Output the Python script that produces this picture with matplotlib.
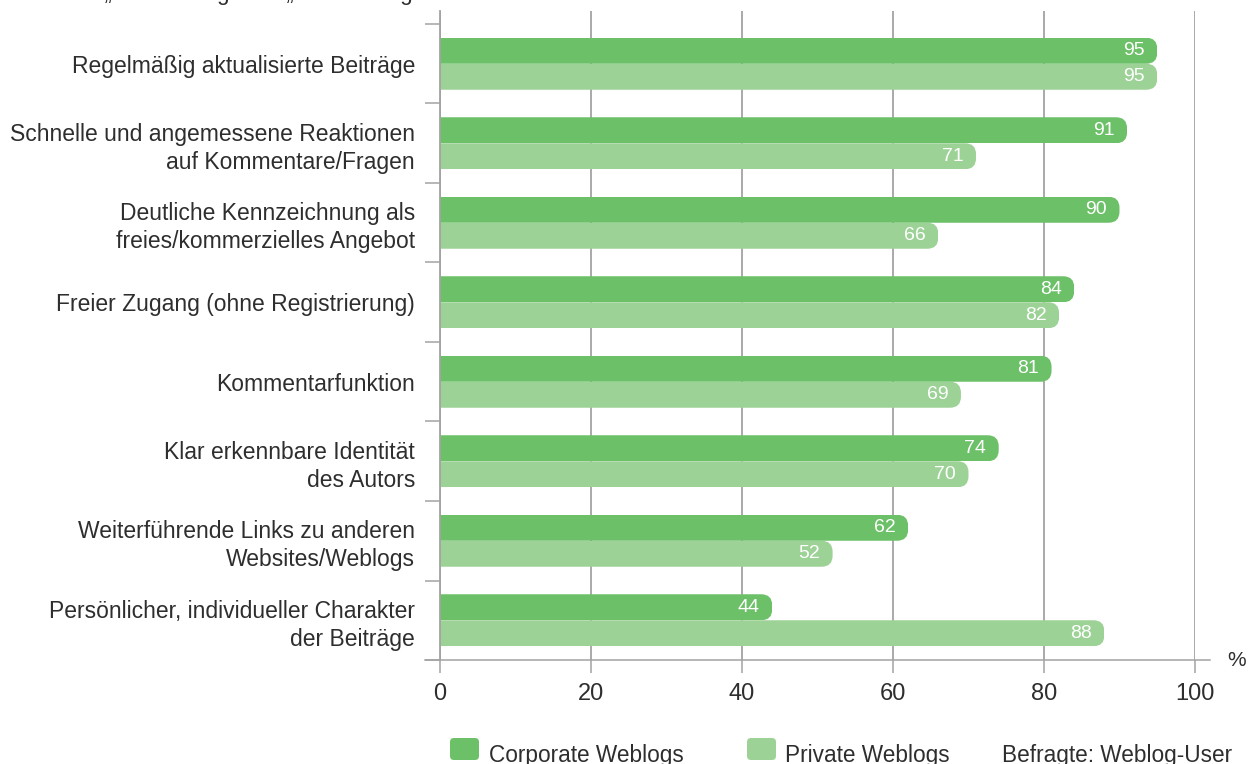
import matplotlib.pyplot as plt
from matplotlib.patches import FancyBboxPatch
from matplotlib.lines import Line2D

categories = [
    'Regelmäßig aktualisierte Beiträge',
    'Schnelle und angemessene Reaktionen\nauf Kommentare/Fragen',
    'Deutliche Kennzeichnung als\nfreies/kommerzielles Angebot',
    'Freier Zugang (ohne Registrierung)',
    'Kommentarfunktion',
    'Klar erkennbare Identität\ndes Autors',
    'Weiterführende Links zu anderen\nWebsites/Weblogs',
    'Persönlicher, individueller Charakter\nder Beiträge',
]
corporate = [95, 91, 90, 84, 81, 74, 62, 44]
private = [95, 71, 66, 82, 69, 70, 52, 88]
x_ticks = [0, 20, 40, 60, 80, 100]

dark_green = '#6cc068'
light_green = '#9dd296'
grid_gray = '#a3a3a3'
text_color = '#2e2e2e'

plt.rcParams['font.family'] = ['Liberation Sans', 'DejaVu Sans']

W, H = 1253, 764
fig = plt.figure(figsize=(W / 100, H / 100), dpi=100)
ax = fig.add_axes([440 / W, 104 / H, 755 / W, 649 / H])

n = len(categories)
ax.set_xlim(0, 100)
ax.set_ylim(n - 0.5, -0.5 - 13 / 79.5)

bar_h = 0.327
pos = list(range(n))
bars_c = ax.barh([p - bar_h / 2 for p in pos], corporate, height=bar_h,
                 color=dark_green, linewidth=0, zorder=3)
bars_p = ax.barh([p + bar_h / 2 for p in pos], private, height=bar_h,
                 color=light_green, linewidth=0, zorder=3)

# round off the right ends: clip every bar to a rounded box
px_x = 755 / 100
px_y = 649 / (n + 13 / 79.5)
radius_px = 11
rs = radius_px / px_x
aspect = px_x / px_y
for rect in list(bars_c) + list(bars_p):
    x0, y0 = rect.get_x(), rect.get_y()
    w, h = rect.get_width(), rect.get_height()
    clip = FancyBboxPatch((x0 - 5, y0), w + 5, h,
                          boxstyle=f'round,pad=0,rounding_size={rs}',
                          mutation_aspect=aspect, transform=ax.transData)
    rect.set_clip_path(clip)

for bars, vals in ((bars_c, corporate), (bars_p, private)):
    for rect, v in zip(bars, vals):
        ax.annotate(str(v), (v, rect.get_y() + rect.get_height() / 2),
                    xytext=(-9, 0), textcoords='offset points',
                    ha='right', va='center', color='white', fontsize=14,
                    zorder=4)

# axes styling
for side in ('top', 'right', 'bottom'):
    ax.spines[side].set_visible(False)
ax.spines['left'].set_color(grid_gray)
ax.spines['left'].set_linewidth(1.3)
ax.spines['left'].set_zorder(5)

ax.set_xticks(x_ticks)
ax.set_xticklabels([str(t) for t in x_ticks])
ax.tick_params(axis='x', length=9.5, width=1.1, color=grid_gray, pad=7,
               labelsize=17, labelcolor=text_color)
ax.set_yticks(pos)
ax.set_yticklabels(categories)
for lbl in ax.get_yticklabels():
    lbl.set_linespacing(1.27)
ax.set_yticks([p + 0.5 for p in range(-1, n)], minor=True)
ax.tick_params(axis='y', which='major', length=0, pad=18, labelsize=16.5,
               labelcolor=text_color)
ax.tick_params(axis='y', which='minor', length=11, width=1.1, color=grid_gray)

ax.grid(axis='x', color=grid_gray, linewidth=1.3, zorder=1)
ax.set_axisbelow(True)

# baseline extending past both ends of the axis
fig.add_artist(Line2D([425 / W, 1210 / W], [104 / H, 104 / H],
                      color=grid_gray, linewidth=1.1))
fig.text(1237 / W, 104 / H, '%', ha='center', va='center', fontsize=15,
         color=text_color)

# header line, mostly outside the canvas
fig.text(30 / W, 1.0, 'Anteile „sehr wichtig“ und „eher wichtig“',
         ha='left', va='baseline', fontsize=16, color=text_color)

# legend
def legend_item(x_box, x_text, color, label):
    fig.add_artist(FancyBboxPatch((x_box, 4), 29, 22,
                                  boxstyle='round,pad=0,rounding_size=4',
                                  transform=None, color=color, linewidth=0))
    fig.text(x_text / W, 2 / H, label, ha='left', va='baseline',
             fontsize=16.3, color=text_color)

legend_item(450, 489, dark_green, 'Corporate Weblogs')
legend_item(747, 785, light_green, 'Private Weblogs')
fig.text(1002 / W, 2 / H, 'Befragte: Weblog-User', ha='left', va='baseline',
         fontsize=16.3, color=text_color)

fig.savefig('out.png', dpi=100)
